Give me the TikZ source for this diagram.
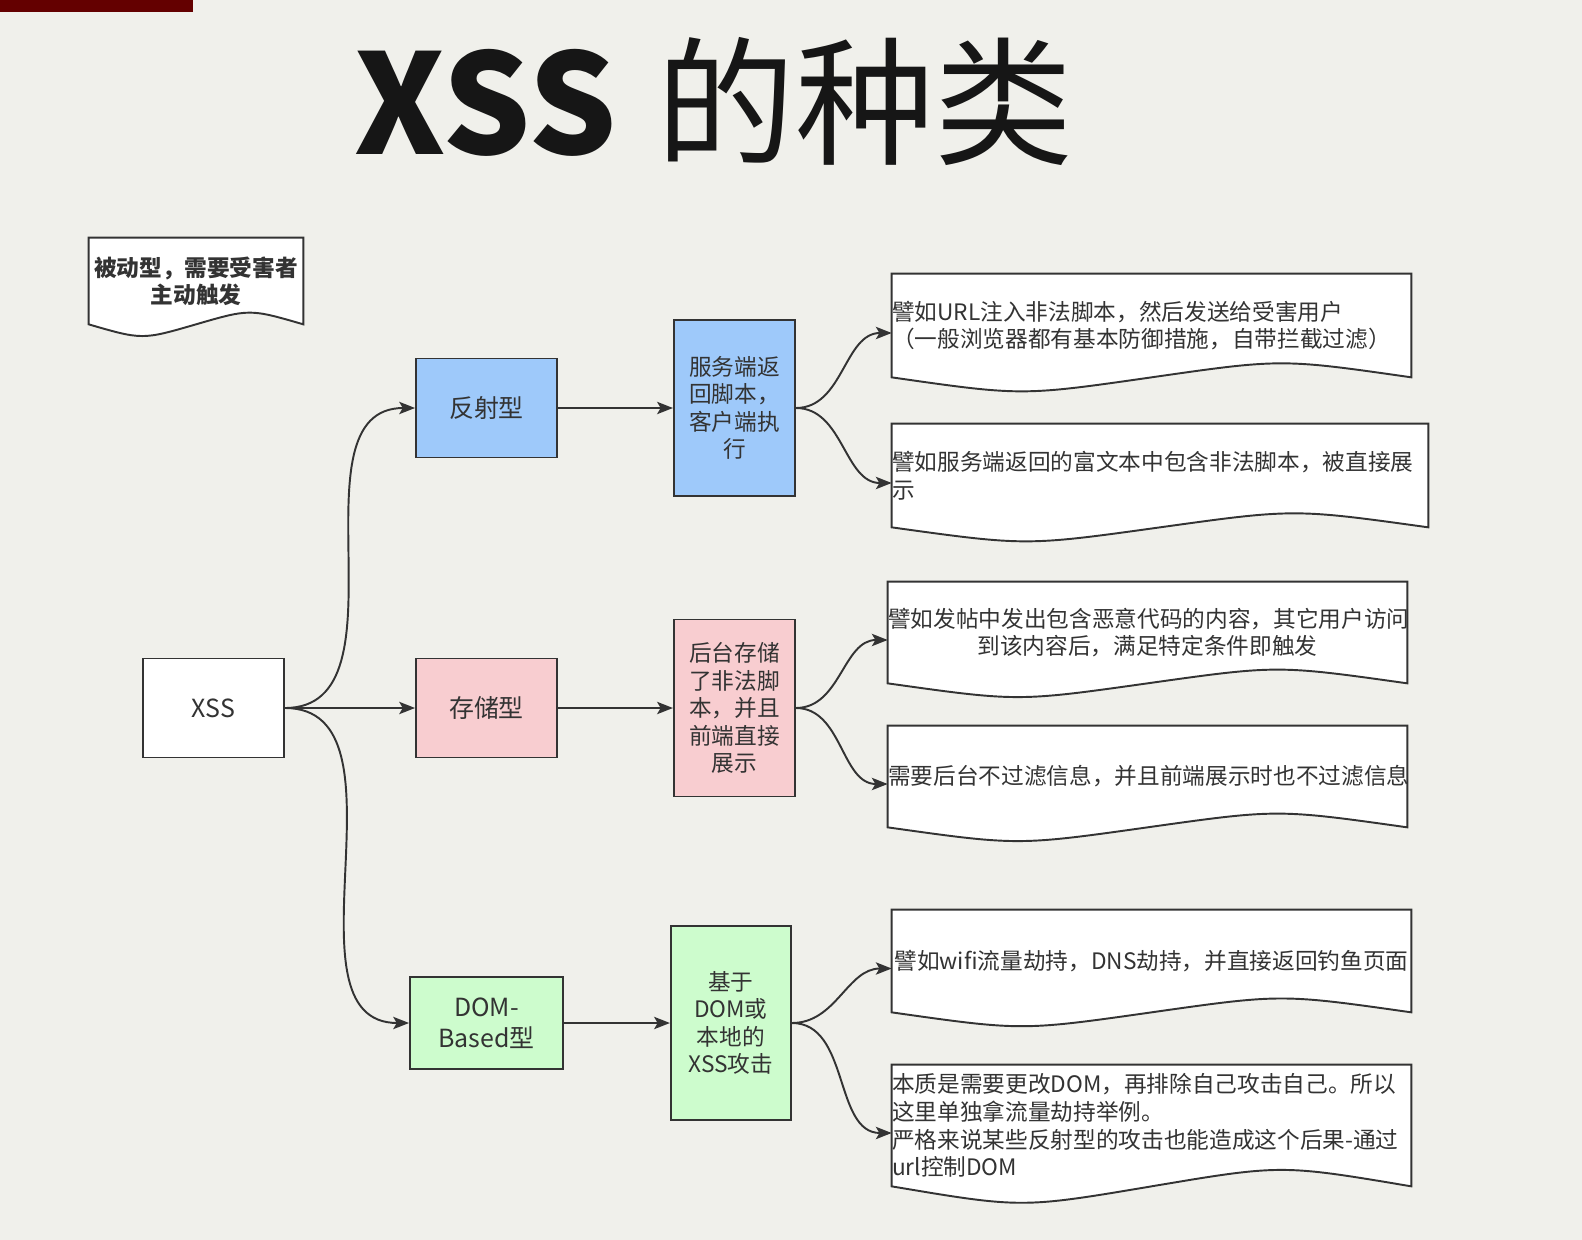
\documentclass[tikz,border=0pt]{standalone}
\usepackage{fontspec}
\setmainfont{Noto Sans CJK SC}
\usetikzlibrary{arrows.meta,positioning,calc,backgrounds}
\definecolor{pagebg}{RGB}{240,240,235}
\definecolor{inkgray}{RGB}{51,51,51}
\definecolor{titleink}{RGB}{22,22,22}
\definecolor{reflblue}{RGB}{158,201,250}
\definecolor{storpink}{RGB}{248,205,208}
\definecolor{domgreen}{RGB}{205,252,205}
\definecolor{tabred}{RGB}{100,0,0}

% document shape: straight top and sides, wavy bottom
\newcommand{\docoutline}[1]{%
  \draw[docline] let \p1=($(#1.north east)-(#1.south west)$) in
    (#1.north west) -- (#1.north east) -- (#1.south east)
    .. controls ([xshift=-0.25*\x1,yshift=0.18*\y1]#1.south east) .. (#1.south)
    .. controls ([xshift=0.25*\x1,yshift=-0.18*\y1]#1.south west) .. (#1.south west)
    -- cycle;}

\begin{document}
\begin{tikzpicture}[
    x=0.02cm, y=-0.02cm,
    >={Stealth[length=9pt,width=7pt,inset=2pt]},
    every node/.style={text=inkgray},
    box/.style={rectangle, draw=inkgray, line width=1.1pt, align=center, inner sep=2pt},
    lvlone/.style={box, minimum width=2.82cm, minimum height=1.98cm,
                   font=\fontsize{14.2pt}{17.5pt}\selectfont},
    lvltwo/.style={box, minimum width=2.42cm, minimum height=3.52cm,
                   font=\fontsize{12.9pt}{15.7pt}\selectfont},
    docnode/.style={rectangle, inner sep=0pt, text width=10.38cm,
                    font=\fontsize{12.9pt}{15.8pt}\selectfont},
    docline/.style={draw=inkgray, fill=white, line width=1.1pt},
    arrow/.style={->, line width=1.1pt, draw=inkgray},
]

% === Title ===
\node[anchor=base, text=titleink, font=\fontsize{79pt}{84pt}\selectfont]
    (title) at (714,155) {{\bfseries XSS}\hspace{5pt} 的种类};

% === Note ===
\node[docnode, text width=4.28cm, minimum height=1.72cm, align=center,
      font=\fontsize{12.9pt}{15.3pt}\selectfont\bfseries]
    (note) at (196,281) {被动型，需要受害者\\主动触发};

% === Root and types ===
\node[lvlone, fill=white] (xss) at (213.5,708) {XSS};
\node[lvlone, fill=reflblue] (fanshe) at (486.5,408) {反射型};
\node[lvlone, fill=storpink] (cunchu) at (486.5,708) {存储型};
\node[lvlone, fill=domgreen, minimum width=3.06cm, minimum height=1.84cm]
    (dombased) at (486.5,1023) {DOM-\\Based型};

% === How each type works ===
\node[lvltwo, fill=reflblue, right=2.3cm of fanshe] (fuwu)
    {服务端返\\回脚本，\\客户端执\\行};
\node[lvltwo, fill=storpink, minimum height=3.54cm, right=2.3cm of cunchu] (houtai)
    {后台存储\\了非法脚\\本，并且\\前端直接\\展示};
\node[lvltwo, fill=domgreen, minimum width=2.4cm, minimum height=3.88cm,
      right=2.12cm of dombased] (jiyu)
    {基于\\DOM或\\本地的\\XSS攻击};

% === Examples ===
\node[docnode, minimum height=2.06cm, align=left] (doc1) at (1151.5,325.5)
    {譬如URL注入非法脚本，然后发送给受害用户\\（一般浏览器都有基本防御措施，自带拦截过滤）};
\node[docnode, text width=10.72cm, minimum height=2.06cm, align=left] (doc2) at (1160,475.5)
    {譬如服务端返回的富文本中包含非法脚本，被直接展\\示};
\node[docnode, minimum height=2.02cm, align=center] (doc3) at (1147.5,632.5)
    {譬如发帖中发出包含恶意代码的内容，其它用户访问\\到该内容后，满足特定条件即触发};
\node[docnode, minimum height=2.02cm, align=center] (doc4) at (1147.5,776.5)
    {需要后台不过滤信息，并且前端展示时也不过滤信息};
\node[docnode, minimum height=2.04cm, align=center] (doc5) at (1151.5,961)
    {譬如wifi流量劫持，DNS劫持，并直接返回钓鱼页面};
\node[docnode, minimum height=2.42cm, align=left] (doc6) at (1151.5,1125.5)
    {本质是需要更改DOM，再排除自己攻击自己。所以\\这里单独拿流量劫持举例。\\严格来说某些反射型的攻击也能造成这个后果-通过\\url控制DOM};

% === Connectors ===
\draw[arrow] (xss.east) to[out=0,in=180] (fanshe.west);
\draw[arrow] (xss.east) -- (cunchu.west);
\draw[arrow] (xss.east) to[out=0,in=180] (dombased.west);

\draw[arrow] (fanshe) -- (fuwu);
\draw[arrow] (cunchu) -- (houtai);
\draw[arrow] (dombased) -- (jiyu);

\draw[arrow] (fuwu.east) to[out=0,in=180] ([yshift=-0.15cm]doc1.west);
\draw[arrow] (fuwu.east) to[out=0,in=180] ([yshift=-0.15cm]doc2.west);
\draw[arrow] (houtai.east) to[out=0,in=180] ([yshift=-0.15cm]doc3.west);
\draw[arrow] (houtai.east) to[out=0,in=180] ([yshift=-0.15cm]doc4.west);
\draw[arrow] (jiyu.east) to[out=0,in=180] ([yshift=-0.15cm]doc5.west);
\draw[arrow] (jiyu.east) to[out=0,in=180] ([yshift=-0.15cm]doc6.west);

% === Page and document outlines ===
\begin{scope}[on background layer]
    \fill[pagebg] (0,0) rectangle (1582,1240);
    \fill[tabred] (0,0) rectangle (193,12);
    \foreach \d in {note,doc1,doc2,doc3,doc4,doc5,doc6} {\docoutline{\d}}
\end{scope}

\end{tikzpicture}
\end{document}
